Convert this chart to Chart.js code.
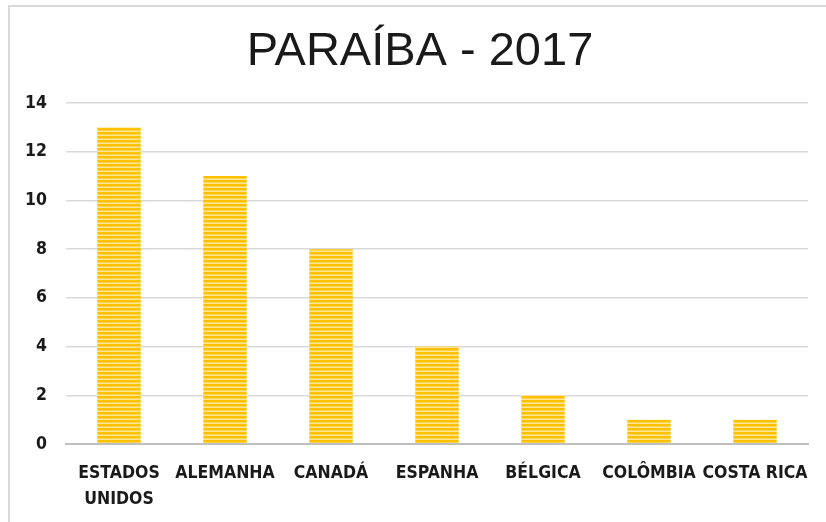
<!DOCTYPE html>
<html>
<head>
<meta charset="utf-8">
<script src="https://cdn.jsdelivr.net/npm/chart.js@4"></script>
<style>
  html, body { margin: 0; padding: 0; background: #fff; }
  #wrap { position: relative; width: 826px; height: 522px; }
  #frame { position: absolute; left: 8px; top: 5px; right: -2px; bottom: -2px;
           border-left: 2px solid #d9d9d9; border-top: 2px solid #d9d9d9; pointer-events: none; }
</style>
</head>
<body>
<div id="wrap">
  <canvas id="c" width="826" height="522"></canvas>
  <div id="frame"></div>
</div>
<script>
const titleText = 'PARAÍBA - 2017';
const categories = [['ESTADOS', 'UNIDOS'], 'ALEMANHA', 'CANADÁ', 'ESPANHA', 'BÉLGICA', 'COLÔMBIA', 'COSTA RICA'];
const values = [13, 11, 8, 4, 2, 1, 1];
const yTicks = [0, 2, 4, 6, 8, 10, 12, 14];

function stripePattern() {
  const p = document.createElement('canvas');
  p.width = 4; p.height = 4;
  const g = p.getContext('2d');
  g.fillStyle = '#FFC000'; g.fillRect(0, 0, 4, 2);
  g.fillStyle = '#FFD44D'; g.fillRect(0, 2, 4, 1);
  g.fillStyle = '#FFE699'; g.fillRect(0, 3, 4, 1);
  return document.getElementById('c').getContext('2d').createPattern(p, 'repeat');
}

const labelFont = "'Liberation Sans Narrow', 'DejaVu Sans Condensed', 'Liberation Sans', sans-serif";

// Title drawn centred over the whole framed chart area (slightly right of canvas centre)
const titlePlugin = {
  id: 'centredTitle',
  afterDraw(chart) {
    const ctx = chart.ctx;
    ctx.save();
    ctx.font = "47px 'Liberation Sans', Arial, sans-serif";
    ctx.fillStyle = '#1a1a1a';
    ctx.textAlign = 'center';
    ctx.textBaseline = 'middle';
    ctx.fillText(titleText, 420, 52);
    ctx.restore();
  }
};

new Chart(document.getElementById('c'), {
  type: 'bar',
  data: {
    labels: categories,
    datasets: [{
      data: values,
      backgroundColor: stripePattern(),
      borderWidth: 0,
      categoryPercentage: 1,
      barPercentage: 0.41
    }]
  },
  options: {
    responsive: false,
    animation: false,
    layout: { padding: { top: 103, right: 18, bottom: 14, left: 10 } },
    plugins: {
      legend: { display: false },
      tooltip: { enabled: false },
      title: { display: false }
    },
    scales: {
      x: {
        grid: { display: false },
        border: { display: true, color: '#bfbfbf', width: 2 },
        afterFit: (s) => { s.height = 64; },
        ticks: {
          color: '#1a1a1a',
          font: { family: labelFont, size: 17.5, weight: 'bold', lineHeight: 1.45 },
          padding: 9,
          maxRotation: 0,
          minRotation: 0,
          autoSkip: false
        }
      },
      y: {
        min: 0,
        max: 14,
        afterBuildTicks: (s) => { s.ticks = yTicks.map(v => ({ value: v })); },
        afterFit: (s) => { s.width = 56; },
        border: { display: false },
        grid: {
          drawTicks: false,
          color: (ctx) => ctx.index === 0 ? '#bfbfbf' : '#d9d9d9',
          lineWidth: (ctx) => ctx.index === 0 ? 2 : 1.5
        },
        ticks: {
          color: '#1a1a1a',
          padding: 19,
          font: { family: labelFont, size: 17.5, weight: 'bold' }
        }
      }
    }
  },
  plugins: [titlePlugin]
});
</script>
</body>
</html>
